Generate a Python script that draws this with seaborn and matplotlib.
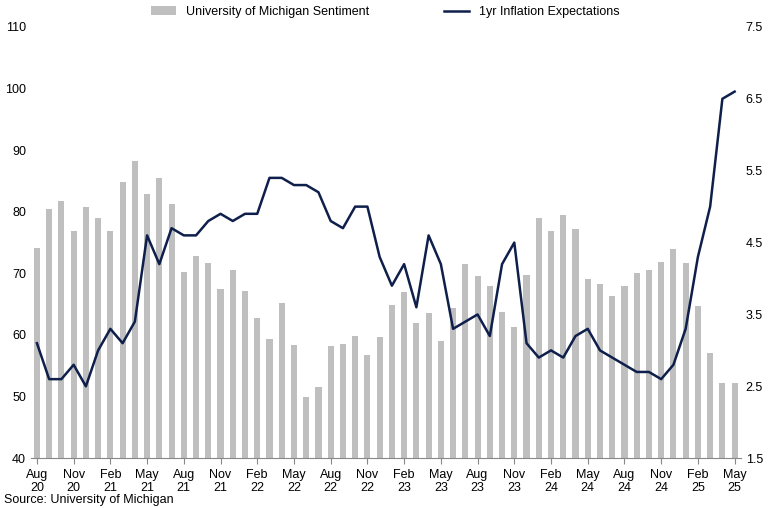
import matplotlib
matplotlib.use("Agg")
import matplotlib.pyplot as plt
import seaborn as sns
import pandas as pd
import numpy as np

months = pd.date_range("2020-08-01", "2025-05-01", freq="MS")
sentiment = [74.1, 80.4, 81.8, 76.9, 80.7, 79.0, 76.8, 84.9, 88.3, 82.9, 85.5, 81.2,
             70.3, 72.8, 71.7, 67.4, 70.6, 67.2, 62.8, 59.4, 65.2, 58.4, 50.0, 51.5,
             58.2, 58.6, 59.9, 56.8, 59.7, 64.9, 67.0, 62.0, 63.5, 59.0, 64.4, 71.6,
             69.5, 67.9, 63.8, 61.3, 69.7, 79.0, 76.9, 79.4, 77.2, 69.1, 68.2, 66.4,
             67.9, 70.1, 70.5, 71.8, 74.0, 71.7, 64.7, 57.0, 52.2, 52.2]
inflation = [3.1, 2.6, 2.6, 2.8, 2.5, 3.0, 3.3, 3.1, 3.4, 4.6, 4.2, 4.7,
             4.6, 4.6, 4.8, 4.9, 4.8, 4.9, 4.9, 5.4, 5.4, 5.3, 5.3, 5.2,
             4.8, 4.7, 5.0, 5.0, 4.3, 3.9, 4.2, 3.6, 4.6, 4.2, 3.3, 3.4,
             3.5, 3.2, 4.2, 4.5, 3.1, 2.9, 3.0, 2.9, 3.2, 3.3, 3.0, 2.9,
             2.8, 2.7, 2.7, 2.6, 2.8, 3.3, 4.3, 5.0, 6.5, 6.6]
labels = [m.strftime("%b\n%y") for m in months]

df = pd.DataFrame({"x": np.arange(len(months)), "sent": sentiment, "infl": inflation})

plt.rcParams["font.family"] = "Liberation Sans"
fig, ax = plt.subplots(figsize=(7.7, 5.08), dpi=100)
fig.subplots_adjust(left=0.04, right=0.962, top=0.947, bottom=0.098)
sns.barplot(data=df, x="x", y="sent", color="#bfbfbf", saturation=1, width=0.5, ax=ax,
            label="University of Michigan Sentiment")
ax.set_ylim(40, 110)
ax.set_yticks(range(40, 111, 10))
ax2 = ax.twinx()
sns.lineplot(data=df, x="x", y="infl", color="#0f1f4b", linewidth=1.8, ax=ax2,
             label="1yr Inflation Expectations")
ax2.set_ylim(1.5, 7.5)
ax2.set_yticks(np.arange(1.5, 7.6, 1.0))
ax.set_xlim(-0.5, len(months) - 0.5)
ax.set_xticks(np.arange(0, len(months), 3))
ax.set_xticklabels(labels[::3])
for a in (ax, ax2):
    a.set_xlabel(""); a.set_ylabel("")
    for s in ["top", "left", "right"]:
        a.spines[s].set_visible(False)
    a.tick_params(labelsize=9, length=0)
ax.spines["bottom"].set_color("#888888")
ax2.spines["bottom"].set_visible(False)
ax.tick_params(axis="x", length=4, color="#888888")
h1, l1 = ax.get_legend_handles_labels()
h2, l2 = ax2.get_legend_handles_labels()
if ax2.get_legend(): ax2.get_legend().remove()
if ax.get_legend(): ax.get_legend().remove()
fig.legend(h1 + h2, l1 + l2, loc="upper center", ncol=2, frameon=False, fontsize=9,
           bbox_to_anchor=(0.5, 1.01), columnspacing=6)
fig.text(0.005, 0.01, "Source: University of Michigan", fontsize=9)
fig.savefig("out.png", dpi=100)
